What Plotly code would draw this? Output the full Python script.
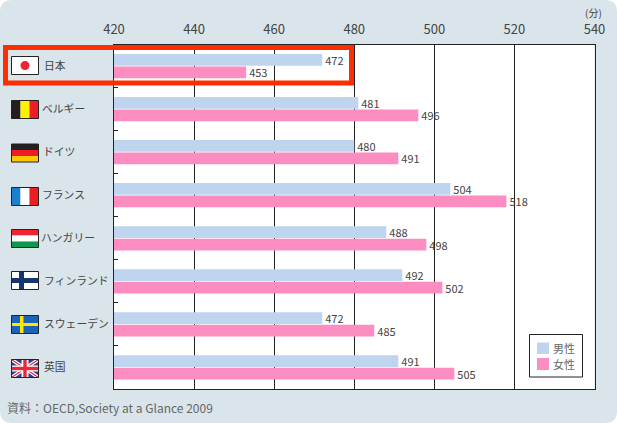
import plotly.graph_objects as go

categories = ["日本", "ベルギー", "ドイツ", "フランス", "ハンガリー", "フィンランド", "スウェーデン", "英国"]
male = [472, 481, 480, 504, 488, 492, 472, 491]
female = [453, 496, 491, 518, 498, 502, 485, 505]
series_names = ["男性", "女性"]
x_ticks = [420, 440, 460, 480, 500, 520, 540]
label_left = [42, 40, 41, 40, 39, 42, 42, 42]

W, H = 617, 423
FONT = "Noto Sans CJK JP"
TXT = "#444444"
BLUE, PINK = "#bfd4ee", "#fb8dc1"
L, R, T, B = 114, 594.5, 44.5, 389


def px(x):
    return x / W


def py(y):
    return 1 - y / H


shapes = []
annos = []


def rect(x0, y0, x1, y1, fill="rgba(0,0,0,0)", line=None, lw=0, layer="above"):
    shapes.append(dict(type="rect", xref="paper", yref="paper", x0=px(x0), x1=px(x1),
                       y0=py(y0), y1=py(y1), fillcolor=fill, layer=layer,
                       line=dict(color=line or "rgba(0,0,0,0)", width=lw)))


def seg(x0, y0, x1, y1, color, w):
    shapes.append(dict(type="line", xref="paper", yref="paper", x0=px(x0), x1=px(x1),
                       y0=py(y0), y1=py(y1), line=dict(color=color, width=w), layer="above"))


def text(x, y, s, size=11, anchor="left", color=TXT):
    annos.append(dict(xref="paper", yref="paper", x=px(x), y=py(y), text=s, showarrow=False,
                      xanchor=anchor, yanchor="middle", font=dict(family=FONT, size=size, color=color)))


# card background
r = 12
card = (f"M{px(r)},{py(0)} L{px(W-r)},{py(0)} Q{px(W)},{py(0)} {px(W)},{py(r)} "
        f"L{px(W)},{py(H-r)} Q{px(W)},{py(H)} {px(W-r)},{py(H)} L{px(r)},{py(H)} "
        f"Q{px(0)},{py(H)} {px(0)},{py(H-r)} L{px(0)},{py(r)} Q{px(0)},{py(0)} {px(r)},{py(0)} Z")
shapes.append(dict(type="path", xref="paper", yref="paper", path=card, fillcolor="#d9e5ea",
                   line=dict(width=0), layer="below"))
rect(L, T, R, B, fill="white", layer="below")

# flags
FX0, FX1 = 11.5, 38.5
tops = [56.5, 100.5, 144, 187.5, 229.5, 271.5, 315.5, 359.5]
FH = 18


def border(y):
    rect(FX0, y, FX1, y + FH, line="#222222", lw=1)


# Japan
y = tops[0]
rect(FX0, y, FX1, y + FH, fill="white")
shapes.append(dict(type="circle", xref="paper", yref="paper", x0=px(20.5), x1=px(29.5), y0=py(y + 4.5),
                   y1=py(y + 13.5), fillcolor="#ee2233", line=dict(width=0), layer="above"))
border(y)
# Belgium
y = tops[1]
rect(FX0, y, 20.5, y + FH, fill="#231f20")
rect(20.5, y, 29.5, y + FH, fill="#fff200")
rect(29.5, y, FX1, y + FH, fill="#ee1c25")
border(y)
# Germany
y = tops[2]
rect(FX0, y, FX1, y + 6, fill="#231f20")
rect(FX0, y + 6, FX1, y + 12, fill="#ee1c25")
rect(FX0, y + 12, FX1, y + FH, fill="#fdc800")
border(y)
# France
y = tops[3]
rect(FX0, y, 20.5, y + FH, fill="#1b7fd0")
rect(20.5, y, 29.5, y + FH, fill="white")
rect(29.5, y, FX1, y + FH, fill="#ee1c25")
border(y)
# Hungary
y = tops[4]
rect(FX0, y, FX1, y + 6, fill="#ee2430")
rect(FX0, y + 6, FX1, y + 12, fill="white")
rect(FX0, y + 12, FX1, y + FH, fill="#0a9a50")
border(y)
# Finland
y = tops[5]
rect(FX0, y, FX1, y + FH, fill="white")
rect(FX0, y + 6.5, FX1, y + 11.5, fill="#16356f")
rect(19, y, 24, y + FH, fill="#16356f")
border(y)
# Sweden
y = tops[6]
rect(FX0, y, FX1, y + FH, fill="#1a63b8")
rect(FX0, y + 7.5, FX1, y + 10.5, fill="#ffe500")
rect(20, y, 23.5, y + FH, fill="#ffe500")
border(y)
# UK
y = tops[7]
rect(FX0, y, FX1, y + FH, fill="#27408f")
seg(FX0, y, FX1, y + FH, "white", 3.5)
seg(FX0, y + FH, FX1, y, "white", 3.5)
seg(FX0, y, FX1, y + FH, "#e8283a", 1.2)
seg(FX0, y + FH, FX1, y, "#e8283a", 1.2)
rect(FX0, y + 6, FX1, y + 12, fill="white")
rect(21.5, y, 28.5, y + FH, fill="white")
rect(FX0, y + 7.3, FX1, y + 10.7, fill="#e8283a")
rect(23.3, y, 26.7, y + FH, fill="#e8283a")
border(y)

# highlight around Japan
rect(5.5, 47.5, 351.5, 83, line="#ff2e00", lw=5)

# legend
rect(529.5, 334.5, 582.5, 377, fill="white", line="#222222", lw=1)
rect(537, 342.5, 549, 354, fill=BLUE)
rect(537, 358, 549, 370, fill=PINK)
text(551, 347.5, series_names[0], size=11, color="#666666")
text(551, 364, series_names[1], size=11, color="#666666")

# category labels
step = (B - T) / len(categories)
for i, c in enumerate(categories):
    text(label_left[i], T + step * (i + 0.47), c, size=10.8)

text(593, 12, "(分)", size=10, anchor="center")
text(5, 407, "資料：OECD,Society at a Glance 2009", size=12, color="#666666")

fig = go.Figure()
for name, vals, col in [(series_names[0], male, BLUE), (series_names[1], female, PINK)]:
    fig.add_trace(go.Bar(y=categories, x=vals, name=name, orientation="h", marker=dict(color=col, line=dict(width=0)),
                         text=vals, textposition="outside", cliponaxis=False, constraintext="none",
                         textfont=dict(family=FONT, size=11, color=TXT)))

fig.update_layout(
    width=W, height=H, margin=dict(l=0, r=0, t=0, b=0), autosize=False,
    paper_bgcolor="white", plot_bgcolor="rgba(0,0,0,0)", showlegend=False,
    barmode="group", bargap=0.42, bargroupgap=0.06,
    shapes=shapes, annotations=annos,
    xaxis=dict(domain=[px(L), px(R)], range=[420, 540], side="top", tickvals=x_ticks, ticks="outside", ticklen=4,
               tickcolor="rgba(0,0,0,0)", showgrid=True, gridcolor="#222222", gridwidth=1, showline=True,
               mirror=True, linecolor="#222222", linewidth=1, zeroline=False, automargin=False,
               tickfont=dict(family=FONT, size=13, color=TXT)),
    yaxis=dict(domain=[py(B), py(T)], autorange="reversed", type="category", tickson="boundaries", ticks="inside",
               ticklen=4, tickcolor="#222222", showticklabels=False, showgrid=False, showline=True, mirror=True,
               linecolor="#222222", linewidth=1, automargin=False),
)
fig.write_html("out.html", config=dict(displayModeBar=False),
               post_script="document.body.style.margin='0';")
